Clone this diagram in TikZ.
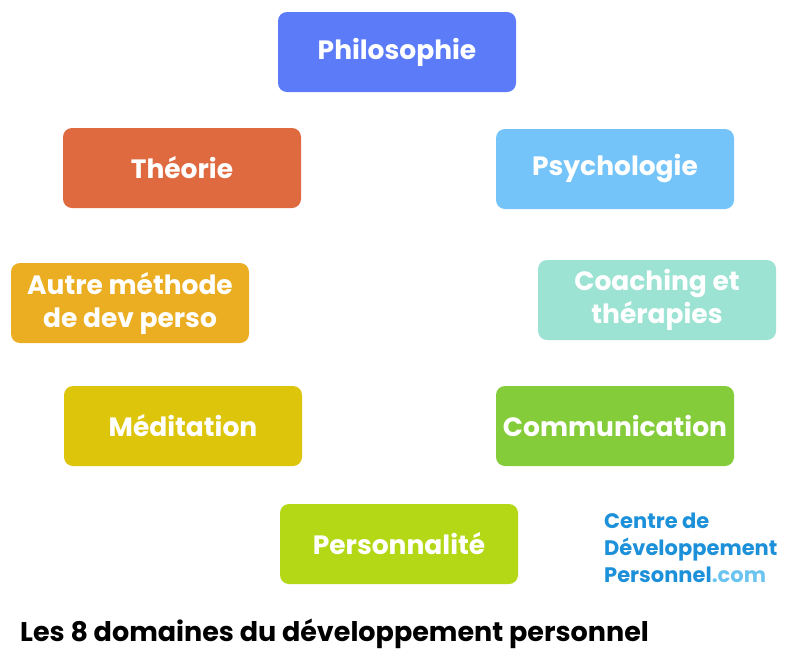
\documentclass[tikz,border=0pt]{standalone}
\usepackage{fontspec}
\setmainfont{Poppins}
\definecolor{cPhilo}{HTML}{5B7BF9}
\definecolor{cTheo}{HTML}{E06A40}
\definecolor{cPsy}{HTML}{74C4F9}
\definecolor{cAutre}{HTML}{EBAE22}
\definecolor{cCoach}{HTML}{9DE3D3}
\definecolor{cMedit}{HTML}{DCC50A}
\definecolor{cComm}{HTML}{84CC3A}
\definecolor{cPerso}{HTML}{B4D816}
\definecolor{cLogo}{HTML}{1C90D8}
\definecolor{cLogoLight}{HTML}{6BC4F0}
\tikzset{
  domainbox/.style={rounded corners=9pt, minimum width=238pt, minimum height=80pt,
    inner sep=0pt, text=white, align=center, font=\fontsize{26.5}{33}\selectfont\bfseries}
}
\begin{document}
\begin{tikzpicture}[x=1pt, y=-1pt]
	\useasboundingbox (0,0) rectangle (800,657);
	\node[domainbox, fill=cPhilo] (philo) at (397,52) {Philosophie};
	\node[domainbox, fill=cTheo] (theo) at (182,168) {Théorie};
	\node[domainbox, fill=cPsy] (psy) at (615,169) {Psychologie};
	\node[domainbox, fill=cAutre] (autre) at (130,303) {Autre méthode\\de dev perso};
	\node[domainbox, fill=cCoach] (coach) at (657,300) {Coaching et\\thérapies};
	\node[domainbox, fill=cMedit] (medit) at (183,426) {Méditation};
	\node[domainbox, fill=cComm] (comm) at (615,426) {Communication};
	\node[domainbox, fill=cPerso] (perso) at (399,544) {Personnalité};
	% logo
	\node[anchor=north west, align=left, inner sep=0pt, text=cLogo,
	  font=\fontsize{21}{27}\selectfont\bfseries] (logo) at (604,513)
	  {Centre de\\Développement\\Personnel{\color{cLogoLight}.com}};
	\node[anchor=west, inner sep=0pt, font=\fontsize{27}{30}\selectfont\bfseries] (titre) at (20,634)
	  {Les 8 domaines du développement personnel};
\end{tikzpicture}
\end{document}
